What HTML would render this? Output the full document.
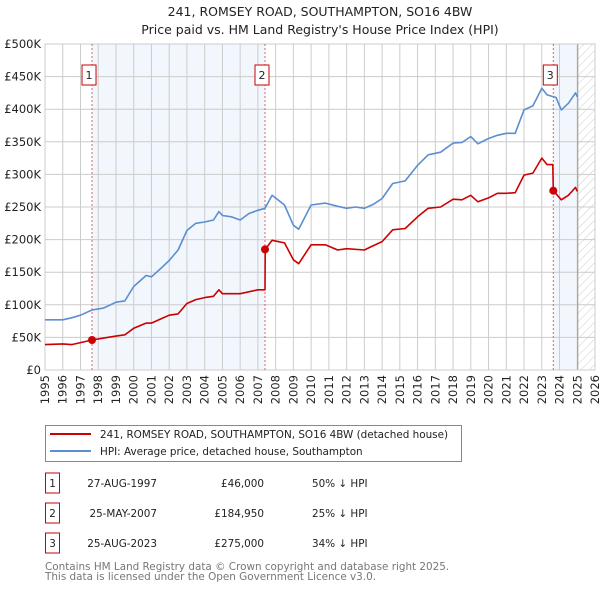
<!DOCTYPE html>
<html><head><meta charset="utf-8">
<style>
body{margin:0;background:#fff;width:600px;height:590px;overflow:hidden;font-family:"DejaVu Sans","Liberation Sans",sans-serif;}
svg text{font-family:"DejaVu Sans","Liberation Sans",sans-serif;}
</style></head>
<body>
<svg id="chart" width="600" height="590" xmlns="http://www.w3.org/2000/svg">
<text x="320" y="16" text-anchor="middle" font-size="12.5" fill="#222">241, ROMSEY ROAD, SOUTHAMPTON, SO16 4BW</text>
<text x="320" y="34" text-anchor="middle" font-size="12.5" fill="#222">Price paid vs. HM Land Registry's House Price Index (HPI)</text>
<defs><pattern id="hatch" width="6" height="6" patternUnits="userSpaceOnUse" patternTransform="rotate(45)"><line x1="0" y1="0" x2="0" y2="6" stroke="#ccc" stroke-width="1"/></pattern></defs>
<g id="plot"></g>
<g>
<rect x="45.5" y="425.5" width="416" height="36" fill="#fff" stroke="#888"/>
<line x1="50" y1="434" x2="91" y2="434" stroke="#cc0000" stroke-width="2"/>
<text x="100" y="438" font-size="10.4" fill="#222">241, ROMSEY ROAD, SOUTHAMPTON, SO16 4BW (detached house)</text>
<line x1="50" y1="451" x2="91" y2="451" stroke="#5b8fd0" stroke-width="2"/>
<text x="100" y="455" font-size="10.4" fill="#222">HPI: Average price, detached house, Southampton</text>
</g>
<g id="table" font-size="10.4" fill="#222"></g>
<text x="45" y="570" font-size="10.4" fill="#777">Contains HM Land Registry data © Crown copyright and database right 2025.</text>
<text x="45" y="580" font-size="10.4" fill="#777">This data is licensed under the Open Government Licence v3.0.</text>
</svg>
<script>
const hpiYears=[1995,1996,1996.5,1997,1997.65,1998.3,1999,1999.5,2000,2000.7,2001,2001.5,2002,2002.5,2003,2003.5,2004,2004.5,2004.8,2005,2005.5,2006,2006.5,2007,2007.4,2007.8,2008.5,2009,2009.3,2010,2010.8,2011.5,2012,2012.5,2013,2013.5,2014,2014.6,2015.3,2016,2016.6,2017.3,2018,2018.5,2019,2019.4,2020,2020.5,2021,2021.5,2022,2022.5,2023,2023.3,2023.8,2024.1,2024.5,2024.9,2025.0];
const hpiValues=[77,77,80,84,92,95,104,106,128,145,143,155,168,184,214,225,227,230,243,237,235,230,240,245,248,268,253,222,216,253,256,251,248,250,248,254,263,286,290,314,330,334,348,349,358,347,355,360,363,363,399,405,432,422,418,399,409,425,419];
const priceYears=[1995,1996,1996.5,1997,1997.65,1998.3,1999,1999.5,2000,2000.7,2001,2001.5,2002,2002.5,2003,2003.5,2004,2004.5,2004.8,2005,2006,2007,2007.4,2007.41,2007.8,2008.5,2009,2009.3,2010,2010.8,2011.5,2012,2013,2013.3,2014,2014.6,2015.3,2016,2016.6,2017.3,2018,2018.5,2019,2019.4,2020,2020.5,2021,2021.5,2022,2022.5,2023,2023.3,2023.62,2023.65,2024.1,2024.5,2024.9,2025.0];
const priceValues=[39,40,39,42,46,49,52,54,64,72,72,78,84,86,102,108,111,113,123,117,117,123,123,184.95,199,195,169,163,192,192,184,186,184,188,197,215,217,235,248,250,262,261,268,258,264,271,271,272,299,302,325,315,315,275,261,268,280,274];
const saleYears=[1997.65,2007.4,2023.65];
const saleValues=[46,184.95,275];
const saleLabels=["1","2","3"];
const saleDates=["27-AUG-1997","25-MAY-2007","25-AUG-2023"];
const salePrices=["£46,000","£184,950","£275,000"];
const saleDiffs=["50% ↓ HPI","25% ↓ HPI","34% ↓ HPI"];
const yTicks=[0,50,100,150,200,250,300,350,400,450,500];
const yTickLabels=["£0","£50K","£100K","£150K","£200K","£250K","£300K","£350K","£400K","£450K","£500K"];
const xTicks=[1995,1996,1997,1998,1999,2000,2001,2002,2003,2004,2005,2006,2007,2008,2009,2010,2011,2012,2013,2014,2015,2016,2017,2018,2019,2020,2021,2022,2023,2024,2025,2026];

const L=45,R=595,T=44,B=370,X0=1995,X1=2026,YMAX=500;
const xs=y=>L+(y-X0)/(X1-X0)*(R-L);
const ys=v=>B-v/YMAX*(B-T);
const NS="http://www.w3.org/2000/svg";
const plot=document.getElementById('plot');
function mk(tag,attrs,parent){const e=document.createElementNS(NS,tag);for(const k in attrs)e.setAttribute(k,attrs[k]);(parent||plot).appendChild(e);return e;}

let s1=mk('rect',{x:xs(saleYears[0]),y:T,width:xs(saleYears[1])-xs(saleYears[0]),height:B-T,fill:'#eef3fc',opacity:0.75});


let s3=mk('rect',{x:xs(saleYears[2]),y:T,width:xs(2025.03)-xs(saleYears[2]),height:B-T,fill:'#eef3fc',opacity:0.75});


let hz=mk('rect',{x:xs(2025.03),y:T,width:R-xs(2025.03),height:B-T,fill:'url(#hatch)'});



yTicks.forEach((v,i)=>{
  let g=mk('line',{x1:L,x2:R,y1:ys(v),y2:ys(v),stroke:'#ccc','stroke-width':1});
  
  
  let t=mk('text',{x:L-4,y:ys(v)+4,'text-anchor':'end','font-size':'11.5',fill:'#222'});
  t.textContent=yTickLabels[i];
  
  
});
xTicks.forEach(yr=>{
  let g=mk('line',{x1:xs(yr),x2:xs(yr),y1:T,y2:B,stroke:'#ccc','stroke-width':1});
  
  
  let t=mk('text',{x:0,y:0,'text-anchor':'end','font-size':'11.5',fill:'#222',transform:`translate(${xs(yr)+4},${B+5}) rotate(-90)`});
  t.textContent=yr;
  
  
});
let nl=mk('line',{x1:xs(2025.03),x2:xs(2025.03),y1:T,y2:B,stroke:'#999','stroke-width':1});


let fr=mk('rect',{x:L,y:T,width:R-L,height:B-T,fill:'none',stroke:'#ccc'});



saleYears.forEach((yr,i)=>{
  let v=mk('line',{x1:xs(yr),x2:xs(yr),y1:T,y2:B,stroke:'#e06060','stroke-width':1,'stroke-dasharray':'2,2'});
  
  
  let bx=mk('rect',{x:xs(yr)-10,y:65,width:14,height:20,fill:'#fff',stroke:'#cc0000'});
  
  
  let t=mk('text',{x:xs(yr)-3,y:79,'text-anchor':'middle','font-size':'11',fill:'#222'});
  t.textContent=saleLabels[i];
  
  
});

function path(xa,va,color,name){
  let d=xa.map((x,i)=>(i?'L':'M')+xs(x).toFixed(1)+','+ys(va[i]).toFixed(1)).join(' ');
  let p=mk('path',{d:d,fill:'none',stroke:color,'stroke-width':1.6,'stroke-linejoin':'round'});
  
  
}
path(hpiYears,hpiValues,'#5b8fd0','hpi-line');
path(priceYears,priceValues,'#cc0000','price-paid-line');
saleYears.forEach((yr,i)=>{
  let c=mk('circle',{cx:xs(yr),cy:ys(saleValues[i]),r:4,fill:'#cc0000'});
  
  
});

const tb=document.getElementById('table');
saleLabels.forEach((lab,i)=>{
  const cy=483+i*30;
  let b=mk('rect',{x:45.5,y:cy-10,width:14,height:20,fill:'#fff',stroke:'#cc0000'},tb);
  
  
  let t0=mk('text',{x:52.5,y:cy+4,'text-anchor':'middle'},tb);t0.textContent=lab;
  
  
  let t1=mk('text',{x:157,y:cy+4,'text-anchor':'end'},tb);t1.textContent=saleDates[i];
  
  
  let t2=mk('text',{x:264,y:cy+4,'text-anchor':'end'},tb);t2.textContent=salePrices[i];
  
  
  let t3=mk('text',{x:312,y:cy+4},tb);t3.textContent=saleDiffs[i];
  
  
});
</script>
</body></html>
